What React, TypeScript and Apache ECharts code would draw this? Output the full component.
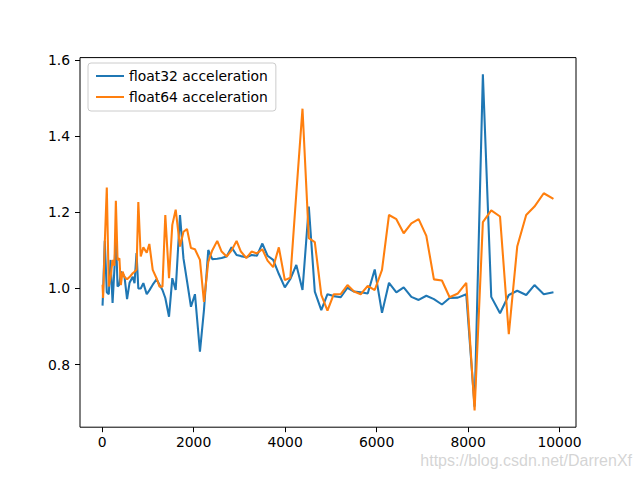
import React, { useEffect, useRef } from "react";
import * as echarts from "echarts";

const sizes = [10, 22, 59, 103, 146, 186, 229, 269, 301, 338, 378, 410, 448, 491, 546, 600, 670, 709, 753, 792, 845, 902, 976, 1033, 1107, 1190, 1255, 1320, 1382, 1463, 1535, 1609, 1703, 1779, 1856, 1943, 2030, 2139, 2227, 2321, 2408, 2517, 2613, 2722, 2831, 2940, 3034, 3154, 3268, 3384, 3504, 3617, 3740, 3864, 3995, 4115, 4246, 4381, 4519, 4650, 4792, 4927, 5065, 5217, 5364, 5508, 5654, 5807, 5960, 6119, 6272, 6433, 6593, 6761, 6920, 7088, 7254, 7429, 7597, 7778, 7961, 8143, 8324, 8507, 8699, 8891, 9075, 9271, 9452, 9655, 9867];

const float32Acc = [0.955, 0.99, 1.125, 0.99, 0.985, 1.075, 0.962, 1.05, 1.145, 1.005, 1.01, 1.044, 1.04, 1.03, 0.972, 1.015, 1.031, 1.014, 1.093, 1.0, 1.0, 1.014, 0.985, 0.995, 1.01, 1.024, 1.01, 0.996, 0.975, 0.926, 1.027, 0.996, 1.193, 1.079, 1.02, 0.952, 0.985, 0.834, 0.943, 1.101, 1.077, 1.078, 1.08, 1.084, 1.108, 1.088, 1.085, 1.082, 1.088, 1.086, 1.118, 1.086, 1.075, 1.038, 1.003, 1.025, 1.062, 0.996, 1.215, 0.992, 0.943, 0.985, 0.98, 0.977, 1.002, 0.992, 0.99, 0.987, 1.05, 0.936, 1.015, 0.99, 1.003, 0.978, 0.97, 0.981, 0.972, 0.958, 0.975, 0.976, 0.985, 0.69, 1.562, 0.978, 0.935, 0.983, 0.994, 0.983, 1.009, 0.985, 0.99];

const float64Acc = [1.01, 0.975, 1.12, 1.265, 1.005, 1.03, 1.075, 1.06, 1.23, 1.075, 1.079, 1.009, 1.044, 1.03, 1.024, 1.03, 1.04, 1.044, 1.05, 1.227, 1.084, 1.108, 1.094, 1.117, 1.049, 1.027, 1.005, 1.005, 1.193, 1.027, 1.167, 1.207, 1.11, 1.149, 1.156, 1.106, 1.103, 1.075, 0.965, 1.07, 1.1, 1.125, 1.097, 1.084, 1.1, 1.125, 1.097, 1.08, 1.097, 1.092, 1.103, 1.073, 1.056, 1.108, 1.022, 1.028, 1.25, 1.472, 1.132, 1.122, 0.983, 0.942, 0.985, 0.985, 1.009, 0.992, 0.985, 1.007, 0.996, 1.049, 1.193, 1.182, 1.145, 1.171, 1.182, 1.138, 1.024, 1.021, 0.977, 0.987, 1.015, 0.68, 1.174, 1.205, 1.189, 0.88, 1.11, 1.193, 1.215, 1.25, 1.235];

const xTicks = [0, 2000, 4000, 6000, 8000, 10000];
const yTicks = [0.8, 1.0, 1.2, 1.4, 1.6];
const seriesNames = ["float32 acceleration", "float64 acceleration"];
const watermark = "https://blog.csdn.net/DarrenXf";

export default function App() {
  const ref = useRef<HTMLDivElement>(null);
  useEffect(() => {
    if (!ref.current) return;
    const chart = echarts.init(ref.current, null, { renderer: "svg" });
    const xMinD = Math.min(...sizes);
    const xMaxD = Math.max(...sizes);
    const xr = xMaxD - xMinD;
    const allY = float32Acc.concat(float64Acc);
    const yMinD = Math.min(...allY);
    const yMaxD = Math.max(...allY);
    const yr = yMaxD - yMinD;
    const font = "DejaVu Sans";
    const fs = 13.9;
    chart.setOption({
      animation: false,
      backgroundColor: "#fff",
      grid: {
        left: 80,
        right: 64,
        top: 57.6,
        bottom: 52.8,
        show: true,
        borderColor: "#000",
        borderWidth: 1,
        backgroundColor: "transparent",
      },
      legend: {
        left: 88,
        top: 63,
        orient: "vertical",
        data: seriesNames,
        icon: "rect",
        itemWidth: 28,
        itemHeight: 2,
        itemGap: 5,
        padding: [5, 8, 6, 8],
        backgroundColor: "rgba(255,255,255,0.8)",
        borderColor: "#cccccc",
        borderWidth: 1,
        borderRadius: 3,
        textStyle: { fontFamily: font, fontSize: fs, color: "#000", lineHeight: 16 },
      },
      xAxis: {
        type: "value",
        position: "bottom",
        min: xMinD - 0.05 * xr,
        max: xMaxD + 0.05 * xr,
        splitLine: { show: false },
        axisLine: { show: false, onZero: false },
        axisTick: {
          show: true,
          inside: false,
          length: 5,
          lineStyle: { color: "#000", width: 1 },
          customValues: xTicks,
        },
        axisLabel: {
          customValues: xTicks,
          margin: 8,
          fontFamily: font,
          fontSize: fs,
          color: "#000",
          formatter: (v: number) => String(Math.round(v)),
        },
      },
      yAxis: {
        type: "value",
        position: "left",
        min: yMinD - 0.05 * yr,
        max: yMaxD + 0.05 * yr,
        splitLine: { show: false },
        axisLine: { show: false, onZero: false },
        axisTick: {
          show: true,
          inside: false,
          length: 5,
          lineStyle: { color: "#000", width: 1 },
          customValues: yTicks,
        },
        axisLabel: {
          customValues: yTicks,
          margin: 10,
          fontFamily: font,
          fontSize: fs,
          color: "#000",
          formatter: (v: number) => v.toFixed(1),
        },
      },
      series: [
        {
          name: seriesNames[0],
          type: "line",
          data: sizes.map((x, i) => [x, float32Acc[i]]),
          showSymbol: false,
          symbol: "none",
          color: "#1f77b4",
          itemStyle: { color: "#1f77b4" },
          lineStyle: { color: "#1f77b4", width: 2.08 },
          z: 2,
        },
        {
          name: seriesNames[1],
          type: "line",
          data: sizes.map((x, i) => [x, float64Acc[i]]),
          showSymbol: false,
          symbol: "none",
          color: "#ff7f0e",
          itemStyle: { color: "#ff7f0e" },
          lineStyle: { color: "#ff7f0e", width: 2.08 },
          z: 3,
        },
      ],
      graphic: [
        {
          type: "text",
          right: 8,
          top: 452,
          style: {
            text: watermark,
            fontFamily: "Liberation Sans, Arial, sans-serif",
            fontSize: 16,
            fill: "rgba(205,205,205,0.85)",
          },
        },
      ],
    });
    return () => chart.dispose();
  }, []);
  return (
    <div
      ref={ref}
      style={{ position: "absolute", left: 0, top: 0, width: 640, height: 480 }}
    />
  );
}
